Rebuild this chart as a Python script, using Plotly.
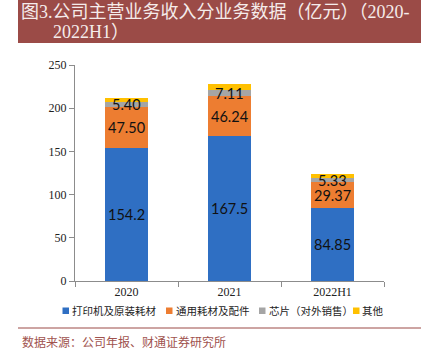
import plotly.graph_objects as go

# ---- data ----
categories = ["2020", "2021", "2022H1"]
printer_consumables = [154.2, 167.5, 84.85]   # 打印机及原装耗材
generic_consumables = [47.50, 46.24, 29.37]   # 通用耗材及配件
chips_external = [5.40, 7.11, 5.33]           # 芯片（对外销售）
others = [4.2, 7.4, 4.4]                      # 其他 (estimated, unlabeled)

series_names = ["打印机及原装耗材", "通用耗材及配件", "芯片（对外销售）", "其他"]
y_ticks = [0, 50, 100, 150, 200, 250]

title_line1 = "图3.公司主营业务收入分业务数据（亿元）（2020-"
title_line2 = "2022H1）"
source_text = "数据来源：公司年报、财通证券研究所"

# ---- style ----
W, H = 421, 357
L, R, T, B = 75, 37, 65, 76
colors = ["#2F6FC3", "#ED7D31", "#A5A5A5", "#FFC000"]
banner = "#9B4B47"
label_font = dict(family="Lato, Liberation Sans, sans-serif", size=14.5, color="#111111")
serif = "Liberation Serif, Noto Sans CJK SC, serif"
cjk = "Liberation Serif, Noto Sans CJK SC, sans-serif"

pw, ph = W - L - R, H - T - B


def px(x):
    return (x - L) / pw


def py(y):
    return (H - B - y) / ph


series = [printer_consumables, generic_consumables, chips_external, others]
label_formats = ["{:#.4g}", "{:#.4g}", "{:#.3g}", None]

fig = go.Figure()
for vals, name, c in zip(series, series_names, colors):
    fig.add_trace(go.Bar(x=categories, y=vals, name=name, marker_color=c,
                         marker_line_width=0))

fig.update_layout(
    width=W, height=H, margin=dict(l=L, r=R, t=T, b=B, autoexpand=False),
    barmode="stack", bargap=0.58, showlegend=False,
    plot_bgcolor="white", paper_bgcolor="white",
    xaxis=dict(type="category", categoryorder="array", categoryarray=categories,
               range=[-0.5, len(categories) - 0.5],
               showline=True, linecolor="#8c8c8c", linewidth=1,
               ticks="outside", tickson="boundaries", ticklen=5, tickcolor="#8c8c8c",
               tickfont=dict(family=serif, size=12, color="#222222"), showgrid=False),
    yaxis=dict(range=[0, 250], tickvals=y_ticks, showline=True, linecolor="#8c8c8c",
               linewidth=1, ticks="outside", ticklen=5, tickcolor="#8c8c8c",
               tickfont=dict(family=serif, size=12, color="#222222"), showgrid=False,
               zeroline=False),
)

shapes = []
annotations = []

# data labels centred on their segments (data coordinates; x as category index)
base = [0.0] * len(categories)
for vals, fmt in zip(series, label_formats):
    for i, v in enumerate(vals):
        if fmt is not None:
            annotations.append(dict(text=fmt.format(v), x=i, y=base[i] + v / 2,
                                    xref="x", yref="y", showarrow=False,
                                    xanchor="center", yanchor="middle", font=label_font))
        base[i] += v

# title banner
shapes.append(dict(type="rect", xref="paper", yref="paper", x0=px(18), x1=px(W + 2),
                   y0=py(43), y1=py(-2), fillcolor=banner, line_width=0, layer="below"))
annotations.append(dict(text=title_line1, xref="paper", yref="paper", x=px(19), y=py(12),
                        xanchor="left", yanchor="middle", showarrow=False,
                        font=dict(family=cjk, size=18, color="#F5ECEB")))
annotations.append(dict(text=title_line2, xref="paper", yref="paper", x=px(51), y=py(31.5),
                        xanchor="left", yanchor="middle", showarrow=False,
                        font=dict(family=cjk, size=18, color="#F5ECEB")))
# legend (manual, single row)
legend_pos = [(62.5, 71), (166, 175), (259, 268), (353, 361)]
ly = 310.5
for (sx, tx), name, c in zip(legend_pos, series_names, colors):
    shapes.append(dict(type="rect", xref="paper", yref="paper", x0=px(sx), x1=px(sx + 6.5),
                       y0=py(ly + 3.5), y1=py(ly - 3), fillcolor=c, line_width=0))
    annotations.append(dict(text=name, xref="paper", yref="paper", x=px(tx - 1), y=py(ly),
                            xanchor="left", yanchor="middle", showarrow=False,
                            font=dict(family=cjk, size=10.5, color="#222222")))
# separator line + source
shapes.append(dict(type="line", xref="paper", yref="paper", x0=px(18), x1=px(W + 2),
                   y0=py(328), y1=py(328), line=dict(color=banner, width=1)))
annotations.append(dict(text=source_text, xref="paper", yref="paper", x=px(20), y=py(342),
                        xanchor="left", yanchor="middle", showarrow=False,
                        font=dict(family=cjk, size=12, color="#A0524E")))

fig.update_layout(shapes=shapes, annotations=annotations)
fig.write_html("out.html", config={"displayModeBar": False},
               post_script="document.body.style.margin='0';document.body.style.padding='0';")
